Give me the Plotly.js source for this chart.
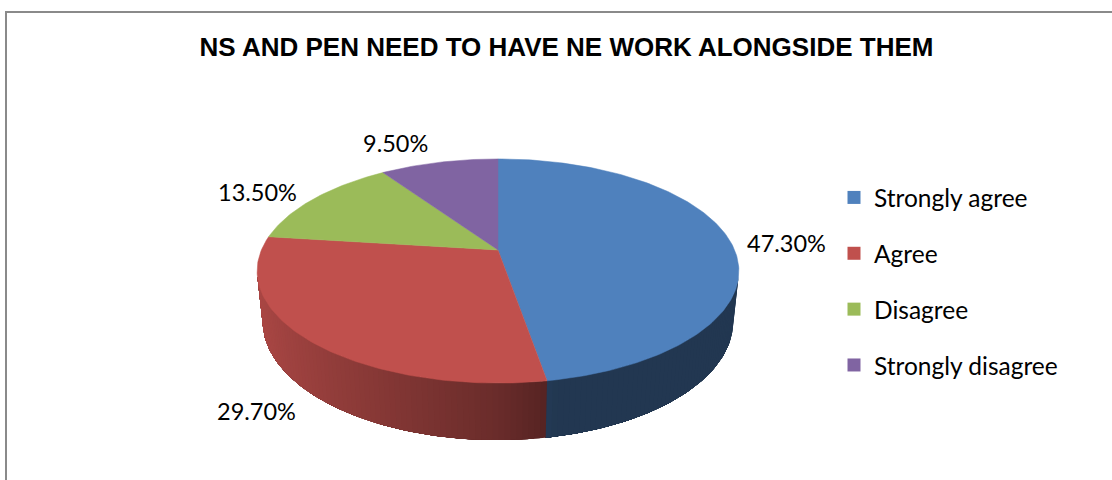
<!DOCTYPE html>
<html>
<head>
<meta charset="utf-8">
<script src="https://cdn.plot.ly/plotly-3.0.1.min.js"></script>
<style>
  html, body { margin: 0; padding: 0; background: #fff; }
  #wrap { position: relative; width: 1112px; height: 480px; overflow: hidden; }
  #chart { position: absolute; left: 0; top: 0; width: 1112px; height: 480px; }
  #frame { position: absolute; left: 5px; top: 11px; width: 1200px; height: 600px;
           border-left: 2px solid #8a8a8a; border-top: 2px solid #8a8a8a; pointer-events: none; }
</style>
</head>
<body>
<div id="wrap">
  <div id="chart"></div>
  <div id="frame"></div>
</div>
<script>
// Survey answers and their shares (percent)
const categories = ['Strongly agree', 'Agree', 'Disagree', 'Strongly disagree'];
const shares = [47.3, 29.7, 13.5, 9.5];
const sliceColors = ['#4F81BD', '#C0504D', '#9BBB59', '#8064A2'];
const chartTitle = 'NS AND PEN NEED TO HAVE NE WORK ALONGSIDE THEM';

// Camera / disc geometry of the tilted pie (pixel space)
const view = {
  cx: 498, cy: 250,      // screen position of the disc centre
  focal: 1122,           // focal length in pixels
  dist: 4.742,           // camera distance in disc radii
  pitch: 27.2 * Math.PI / 180,
  thick: 0.241           // disc thickness in radii
};
// Label nudges (pixels: right, down) from the rim mid-point of each slice
const labelNudge = [[56, 2], [-52, 71], [-57, -7], [-44, -19]];

const sinP = Math.sin(view.pitch), cosP = Math.cos(view.pitch);
function project(X, Y, Z) {
  const depth = view.dist - Y * sinP + Z * cosP;
  const up = Y * cosP + Z * sinP;
  return [view.cx + view.focal * X / depth, view.cy - view.focal * up / depth];
}
const rad = d => d * Math.PI / 180;
function rim(deg, Y) { return project(Math.sin(rad(deg)), Y, Math.cos(rad(deg))); }

function shade(hex, f) {
  const n = parseInt(hex.slice(1), 16);
  const c = [(n >> 16) & 255, (n >> 8) & 255, n & 255].map(v => Math.round(Math.min(255, v * f)));
  return 'rgb(' + c.join(',') + ')';
}
function wallFactor(deg) {
  const X = Math.sin(rad(deg));
  return X < 0 ? 0.55 - 0.35 * X : Math.max(0.43, 0.55 - 0.6 * X);
}

const total = shares.reduce((a, b) => a + b, 0);
const bounds = [];
let acc = 0;
shares.forEach(v => { const a0 = acc / total * 360; acc += v; bounds.push([a0, acc / total * 360]); });

const traces = [];

// Side wall: each band runs from its start to the end of the slice's visible
// part, so later bands paint over earlier ones and no seams show.
const camZ = view.dist * cosP;
const visFrom = Math.acos(-1 / camZ) * 180 / Math.PI;
const visTo = 360 - visFrom;
function wallBand(d0, e, col) {
  const xs = [], ys = [];
  const steps = Math.max(2, Math.ceil((e - d0) / 1));
  for (let i = 0; i <= steps; i++) { const q = rim(d0 + (e - d0) * i / steps, 0); xs.push(q[0]); ys.push(q[1]); }
  for (let i = steps; i >= 0; i--) { const q = rim(d0 + (e - d0) * i / steps, -view.thick); xs.push(q[0]); ys.push(q[1]); }
  traces.push({
    type: 'scatter', mode: 'lines', fill: 'toself', fillcolor: col,
    x: xs, y: ys, line: { width: 0 }, hoverinfo: 'skip', showlegend: false
  });
}
bounds.forEach(([a0, a1], k) => {
  const s = Math.max(a0, visFrom), e = Math.min(a1, visTo);
  if (e <= s) return;
  const n = Math.max(2, Math.ceil((e - s) / 1.2));
  for (let i = 0; i < n; i++) {
    const d0 = s + (e - s) * i / n, d1 = s + (e - s) * (i + 1) / n;
    wallBand(d0, e, shade(sliceColors[k], wallFactor((d0 + d1) / 2)));
  }
});

// Top faces of the slices
bounds.forEach(([a0, a1], k) => {
  const xs = [], ys = [];
  const c = project(0, 0, 0);
  xs.push(c[0]); ys.push(c[1]);
  const n = Math.max(4, Math.ceil((a1 - a0) / 1));
  for (let i = 0; i <= n; i++) {
    const q = rim(a0 + (a1 - a0) * i / n, 0);
    xs.push(q[0]); ys.push(q[1]);
  }
  xs.push(c[0]); ys.push(c[1]);
  traces.push({
    type: 'scatter', mode: 'lines', fill: 'toself', fillcolor: sliceColors[k],
    x: xs, y: ys, line: { color: sliceColors[k], width: 0.5 },
    name: categories[k], hoverinfo: 'name', showlegend: false
  });
});

// Legend keys
categories.forEach((name, k) => {
  traces.push({
    type: 'scatter', mode: 'markers', x: [null], y: [null], name: name,
    legendgroup: 'g' + k, showlegend: true,
    marker: { symbol: 'square', size: 13, color: sliceColors[k] }
  });
});

// Percentage labels
const annotations = bounds.map(([a0, a1], k) => {
  const p = rim((a0 + a1) / 2, 0);
  return {
    x: p[0], y: p[1], xref: 'x', yref: 'y', showarrow: false,
    xshift: labelNudge[k][0], yshift: -labelNudge[k][1],
    text: shares[k].toFixed(2) + '%',
    font: { family: 'Lato, Carlito, sans-serif', size: 23.5, color: '#000' }
  };
});

const layout = {
  width: 1112, height: 480,
  margin: { l: 0, r: 0, t: 0, b: 0 },
  paper_bgcolor: '#fff', plot_bgcolor: '#fff',
  title: {
    text: chartTitle, x: 566.5 / 1112, xanchor: 'center', xref: 'paper',
    y: 1 - 47 / 480, yanchor: 'middle', yref: 'container',
    font: { family: 'Liberation Sans, Arial, sans-serif', size: 26, weight: 'bold', color: '#000' }
  },
  xaxis: { range: [0, 1112], visible: false, fixedrange: true },
  yaxis: { range: [480, 0], visible: false, fixedrange: true },
  showlegend: true,
  legend: {
    x: 834 / 1112, xanchor: 'left', y: 1 - 175 / 480, yanchor: 'top',
    font: { family: 'Lato, Carlito, sans-serif', size: 24.5, color: '#000' },
    tracegroupgap: 21, itemsizing: 'trace', bgcolor: 'rgba(0,0,0,0)', borderwidth: 0
  },
  annotations: annotations
};

Plotly.newPlot('chart', traces, layout, { staticPlot: true, displayModeBar: false });
</script>
</body>
</html>
